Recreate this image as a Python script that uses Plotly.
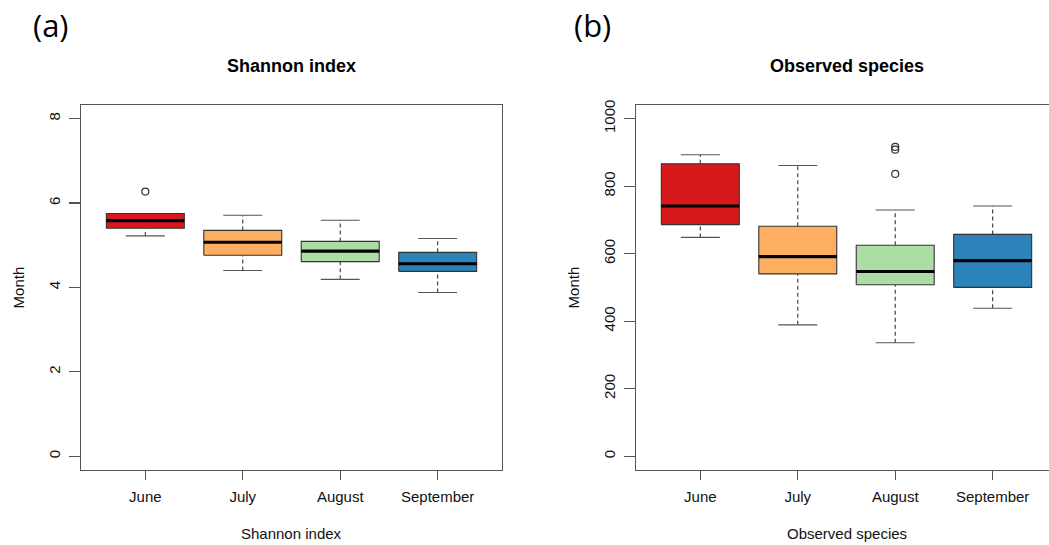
import plotly.graph_objects as go

# ---------------- data ----------------
months = ["June", "July", "August", "September"]
box_colors = ["#D7191C", "#FDAE61", "#ABDDA4", "#2B83BA"]

shannon_low = [5.22, 4.40, 4.19, 3.88]
shannon_q1 = [5.40, 4.76, 4.61, 4.38]
shannon_med = [5.58, 5.07, 4.86, 4.56]
shannon_q3 = [5.75, 5.35, 5.09, 4.83]
shannon_high = [5.75, 5.71, 5.59, 5.16]
shannon_out_month = ["June"]
shannon_out_value = [6.27]

species_low = [648, 389, 336, 438]
species_q1 = [686, 540, 508, 500]
species_med = [741, 591, 547, 579]
species_q3 = [866, 681, 625, 657]
species_high = [893, 861, 729, 741]
species_out_month = ["August", "August", "August"]
species_out_value = [916, 908, 836]

shannon_ticks = [0, 2, 4, 6, 8]
species_ticks = [0, 200, 400, 600, 800, 1000]

# ---------------- figure ----------------
W, H = 1049, 545
FONT = "Liberation Sans, Arial, sans-serif"
EDGE = "#333333"
AXC = "#555555"

fig = go.Figure()


def add_panel(xa, ya, low, q1, med, q3, high, out_m, out_v):
    for i, m in enumerate(months):
        p = i + 1
        hw, cw = 0.4, 0.2
        # whiskers (dashed)
        for a, b in ((q3[i], high[i]), (low[i], q1[i])):
            fig.add_trace(go.Scatter(x=[p, p], y=[a, b], mode="lines", xaxis=xa, yaxis=ya,
                                     line=dict(color=EDGE, width=1.1, dash="4px,3px"),
                                     hoverinfo="skip", showlegend=False))
        # caps
        for v in (high[i], low[i]):
            fig.add_trace(go.Scatter(x=[p - cw, p + cw], y=[v, v], mode="lines", xaxis=xa, yaxis=ya,
                                     line=dict(color=AXC, width=1.1),
                                     hoverinfo="skip", showlegend=False))
        # box
        fig.add_trace(go.Scatter(x=[p - hw, p + hw, p + hw, p - hw, p - hw],
                                 y=[q1[i], q1[i], q3[i], q3[i], q1[i]],
                                 mode="lines", fill="toself", fillcolor=box_colors[i],
                                 xaxis=xa, yaxis=ya, line=dict(color=EDGE, width=1.1),
                                 name=m, showlegend=False))
        # median
        fig.add_trace(go.Scatter(x=[p - hw, p + hw], y=[med[i], med[i]], mode="lines",
                                 xaxis=xa, yaxis=ya, line=dict(color="black", width=3.2),
                                 hoverinfo="skip", showlegend=False))
    # outliers
    fig.add_trace(go.Scatter(x=[months.index(m) + 1 for m in out_m], y=out_v, mode="markers",
                             xaxis=xa, yaxis=ya,
                             marker=dict(symbol="circle-open", size=7, color=EDGE,
                                         line=dict(width=1.2, color=EDGE)),
                             showlegend=False))


add_panel("x", "y", shannon_low, shannon_q1, shannon_med, shannon_q3, shannon_high,
          shannon_out_month, shannon_out_value)
add_panel("x2", "y2", species_low, species_q1, species_med, species_q3, species_high,
          species_out_month, species_out_value)

ydom = [1 - 469 / H, 1 - 101 / H]
tickfont = dict(family=FONT, size=15, color="#111111")

common_x = dict(tickmode="array", tickvals=[1, 2, 3, 4], ticktext=months,
                showline=True, linecolor=AXC, linewidth=1.3, ticks="outside", ticklen=9,
                tickcolor=AXC, tickwidth=1.2, showgrid=False, zeroline=False,
                tickfont=tickfont, fixedrange=True, ticklabelstandoff=4)
common_y = dict(showline=True, linecolor=AXC, linewidth=1.3, ticks="outside", ticklen=11,
                tickcolor=AXC, tickwidth=1.2, showgrid=False, zeroline=False,
                tickfont=tickfont, tickangle=-90, tickmode="array", fixedrange=True,
                ticklabelstandoff=3)

fig.update_layout(
    width=W, height=H, margin=dict(l=0, r=0, t=0, b=0),
    paper_bgcolor="white", plot_bgcolor="white",
    xaxis=dict(domain=[81 / W, 502 / W], range=[0.34, 4.66], anchor="y", mirror=True, **common_x),
    yaxis=dict(domain=ydom, range=[-0.32, 8.32], anchor="x", mirror=True,
               tickvals=shannon_ticks, ticktext=[str(v) for v in shannon_ticks], **common_y),
    xaxis2=dict(domain=[636 / W, 1.0], range=[0.34, 0.34 + (W - 636) / 97.45], anchor="y2",
                mirror=True, **common_x),
    yaxis2=dict(domain=ydom, range=[-40, 1040], anchor="x2", mirror=False,
                tickvals=species_ticks, ticktext=[str(v) for v in species_ticks], **common_y),
    showlegend=False,
)

ann = []
# panel letters
for txt, cx in (("(a)", 51), ("(b)", 592)):
    ann.append(dict(text=txt, x=cx / W, y=1 - 20 / H, xref="paper", yref="paper", showarrow=False,
                    xanchor="center", yanchor="middle",
                    font=dict(family="Open Sans, sans-serif", size=31, color="black")))
# titles
for txt, cx in (("Shannon index", 291.5), ("Observed species", 846.5)):
    ann.append(dict(text="<b>" + txt + "</b>", x=cx / W, y=1 - 62 / H, xref="paper", yref="paper",
                    xanchor="center", yanchor="middle",
                    showarrow=False, font=dict(family=FONT, size=18, color="black")))
    ann.append(dict(text=txt, x=cx / W, y=1 - 533 / H, xref="paper", yref="paper",
                    xanchor="center", yanchor="middle",
                    showarrow=False, font=dict(family=FONT, size=15, color="#111111")))
# y titles
for cx in (18, 573):
    ann.append(dict(text="Month", x=cx / W, y=1 - 285 / H, xref="paper", yref="paper",
                    xanchor="center", yanchor="middle",
                    showarrow=False, textangle=-90, font=dict(family=FONT, size=15, color="#111111")))
fig.update_layout(annotations=ann)

fig.write_html("out.html", post_script="document.body.style.margin='0';",
               config={"displayModeBar": False, "staticPlot": True})
